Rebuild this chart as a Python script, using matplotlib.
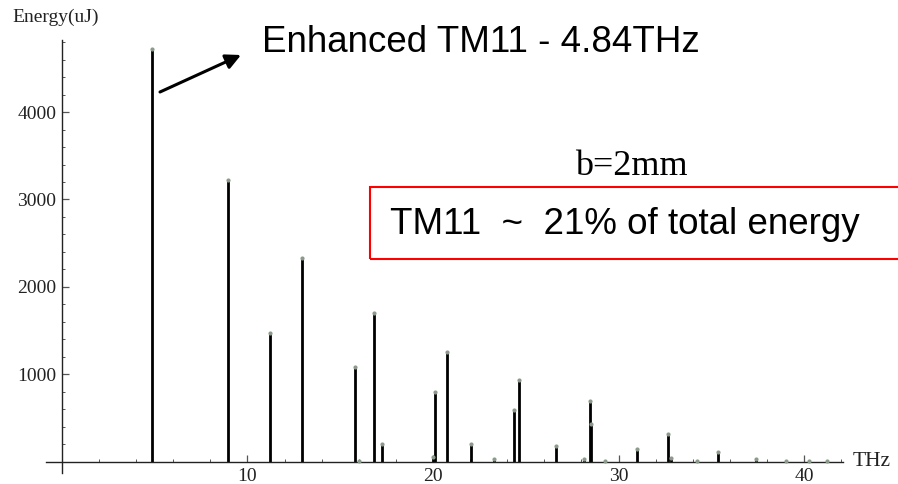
import matplotlib
matplotlib.use("Agg")
import matplotlib.pyplot as plt
from matplotlib.patches import Rectangle
from matplotlib.ticker import MultipleLocator, FixedLocator

# spectrum lines (THz, uJ)
freqs = [4.84, 8.97, 11.21, 12.94, 15.78, 16.03, 16.82, 17.25, 19.98, 20.10,
         20.74, 22.03, 23.29, 24.37, 24.62, 26.61, 28.14, 28.46, 28.53, 29.27,
         31.01, 32.65, 32.83, 34.21, 35.35, 37.41, 39.01, 40.25, 41.26]
energies = [4720, 3220, 1470, 2330, 1090, 10, 1700, 205, 60, 800,
            1255, 205, 30, 595, 935, 185, 38, 700, 435, 10,
            145, 320, 46, 10, 118, 34, 10, 10, 10]
xticks = [10, 20, 30, 40]
yticks = [1000, 2000, 3000, 4000]

W, H = 898, 484
fig = plt.figure(figsize=(W / 100, H / 100), dpi=100)

def px(x0, y0, x1, y1):
    # pixel box (top-left origin) -> figure fraction rect
    return [x0 / W, 1 - y1 / H, (x1 - x0) / W, (y1 - y0) / H]

ax = fig.add_axes(px(46, 40, 843, 473))
ax.set_xlim(-0.86, 42.1)
ax.set_ylim(-126, 4823)

ax.vlines(freqs, 0, energies, color="black", lw=2.0)
ax.scatter(freqs, energies, s=4, color="#8c9a8c", zorder=3)

for s in ("top", "right"):
    ax.spines[s].set_visible(False)
ax.spines["left"].set_position(("data", 0))
ax.spines["bottom"].set_position(("data", 0))
for s in ("left", "bottom"):
    ax.spines[s].set_linewidth(1.0)
    ax.spines[s].set_color("#222222")

ax.xaxis.set_major_locator(FixedLocator(xticks))
ax.yaxis.set_major_locator(FixedLocator(yticks))
ax.xaxis.set_minor_locator(MultipleLocator(2))
ax.yaxis.set_minor_locator(MultipleLocator(200))
ax.tick_params(which="both", direction="in", color="#555555")
ax.tick_params(which="major", length=5, width=0.9, labelsize=14,
               labelcolor="#222222", pad=4)
ax.tick_params(which="minor", length=2.5, width=0.7)
for lab in ax.get_xticklabels() + ax.get_yticklabels():
    lab.set_family("Liberation Serif")

serif = dict(family="Liberation Serif", color="#222222")
fig.text(12 / W, 1 - 17 / H, "Energy(uJ)", fontsize=14, va="center", **serif)
fig.text(853 / W, 1 - 462 / H, "THz", fontsize=15.5, va="center", **serif)
fig.text(631 / W, 1 - 166 / H, "b=2mm", fontsize=26, ha="center", va="center",
         family="Liberation Serif", color="black")

ax.annotate("", xy=(241, H - 55), xytext=(160, H - 92),
            xycoords="figure pixels", textcoords="figure pixels",
            arrowprops=dict(arrowstyle="-|>,head_length=0.9,head_width=0.45",
                            lw=2.2, color="black", shrinkA=0, shrinkB=0))
fig.text(262 / W, 1 - 42 / H, "Enhanced TM11 - 4.84THz", fontsize=26.5,
         va="center", family="Liberation Sans")

# callout box runs off the right edge of the slide
fig.patches.append(Rectangle((370 / W, 1 - 259 / H), 560 / W, 72 / H,
                             transform=fig.transFigure, fill=False,
                             edgecolor="#ff0000", lw=1.5, clip_on=False))
fig.text(390 / W, 1 - 224 / H, "TM11  ~  21% of total energy", fontsize=26.5,
         va="center", family="Liberation Sans")

fig.savefig("out.png", dpi=100)
